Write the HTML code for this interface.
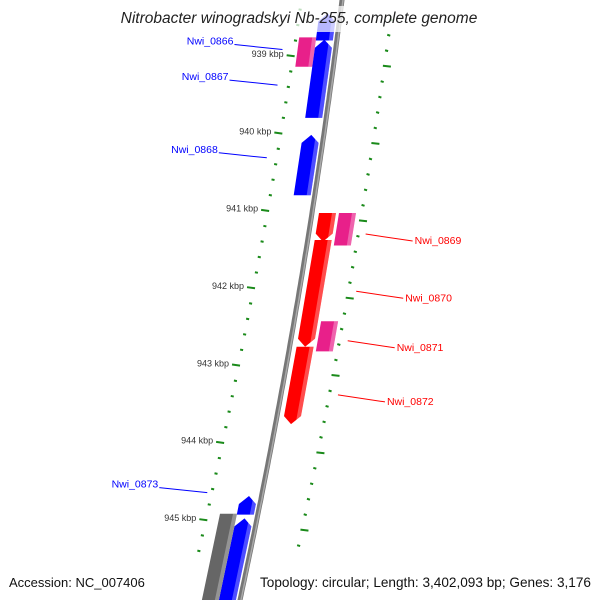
<!DOCTYPE html>
<html><head><meta charset="utf-8"><style>
body{margin:0;background:#fff}
svg{display:block;font-family:"Liberation Sans","DejaVu Sans",sans-serif}
</style></head><body>
<svg id="map" width="600" height="600" viewBox="0 0 600 600">
<g id="ticks"></g>
<g id="genes"></g>
<path id="backbone" fill="none" stroke="#777" stroke-width="5"/>
<path id="backbone2" fill="none" stroke="#aaa" stroke-width="1.5"/>
<g id="labels"></g>
<rect x="112" y="6" width="376" height="26" fill="#fff" opacity="0.72"/>
<text x="299" y="23" text-anchor="middle" font-size="15.5" font-style="italic" fill="#222">Nitrobacter winogradskyi Nb-255, complete genome</text>
<text x="9" y="587" font-size="13" fill="#111">Accession: NC_007406</text>
<text x="591" y="587" font-size="13.6" fill="#111" text-anchor="end">Topology: circular; Length: 3,402,093 bp; Genes: 3,176</text>
</svg>
<script>
const kbpLabels=[939,940,941,942,943,944,945];
const geneNames=["Nwi_top","Nwi_0866","Nwi_0867","Nwi_0868","Nwi_0869a","Nwi_0869","Nwi_0870","Nwi_0871","Nwi_0872","Nwi_0873","Nwi_0874","Nwi_0875"];
const geneStart=[938.45,938.76,938.79,940.02,941.03,941.03,941.38,942.43,942.76,944.69,944.98,944.92];
const geneEnd=[938.8,939.14,939.8,940.8,941.4,941.45,942.76,942.82,943.76,944.93,946.2,946.2];
const geneLane=[-1,-2,-1,-1,1,2,1,2,1,-1,-1,-2];
const geneDir=[-1,0,-1,-1,1,0,1,0,1,-1,-1,0];
const geneColor=["#0000ff","#e8208a","#0000ff","#0000ff","#ff0000","#e8208a","#ff0000","#e8208a","#ff0000","#0000ff","#0000ff","#666666"];
const labelNames=["Nwi_0866","Nwi_0867","Nwi_0868","Nwi_0869","Nwi_0870","Nwi_0871","Nwi_0872","Nwi_0873"];
const labelKbp=[938.8,939.26,940.2,941.38,942.12,942.76,943.46,944.53];
const labelSide=[-1,-1,-1,1,1,1,1,-1];

const NS="http://www.w3.org/2000/svg";
function yOf(k){return 56+(k-939)*77.33;}
function xb(y){return 342-0.125*y-0.000075*y*y;}
function mk(tag,attrs,parent){const e=document.createElementNS(NS,tag);for(const a in attrs)e.setAttribute(a,attrs[a]);parent.appendChild(e);return e;}

let d="";for(let y=-5;y<=605;y+=5){d+=(y<0?"M":"L")+xb(y).toFixed(1)+","+y+" ";}
document.getElementById("backbone").setAttribute("d",d);
const d2=d.replace(/([\d.]+),(-?\d+)/g,(m,x,y)=>(parseFloat(x)+1).toFixed(1)+","+y);
document.getElementById("backbone2").setAttribute("d",d2);

const tg=document.getElementById("ticks");
for(let k=938.4;k<=946.3;k+=0.2){
  const kk=Math.round(k*10)/10;const y=yOf(kk);
  const major=Math.abs(kk-Math.round(kk))<0.01;
  if(y>-5&&y<560){
    const lx=xb(y)-39-0.02*y;
    const t=mk("line",{x1:lx-(major?8:3),y1:y-(major?0.8:0.3),x2:lx,y2:y+0.3,stroke:"#1a8a1a","stroke-width":2},tg);
    
    
  }
  const half=Math.abs(kk*2-Math.round(kk*2))<0.01;
  const ky=y+10;
  if(ky>-5&&ky<560){
    const rx=xb(ky)+50-0.008*ky;
    const r=mk("line",{x1:rx,y1:ky-0.3,x2:rx+(half?8:3),y2:ky+0.6,stroke:"#1a8a1a","stroke-width":2},tg);
    
    
  }
}
for(const k of kbpLabels){
  const y=yOf(k);
  const t=mk("text",{x:xb(y)-50-0.02*y,y:y+1,"font-size":9,"text-anchor":"end",fill:"#333"},tg);
  t.textContent=k+" kbp";
  
  
}

const gg=document.getElementById("genes");
const laneOff={"-2":[-38,-21],"-1":[-21,-4],"1":[7,24],"2":[27,44]};
geneNames.forEach((n,i)=>{
  const y1=yOf(geneStart[i]),y2=yOf(geneEnd[i]);
  const [a,b]=laneOff[geneLane[i]];const m=(a+b)/2;const h=8;
  let pts;
  if(geneDir[i]===-1){pts=[[m,y1],[b,y1+h],[b,y2],[a,y2],[a,y1+h]];}
  else if(geneDir[i]===1){pts=[[a,y1],[b,y1],[b,y2-h],[m,y2],[a,y2-h]];}
  else{pts=[[a,y1],[b,y1],[b,y2],[a,y2]];}
  const P=pts.map(p=>(xb(p[1])+p[0]).toFixed(1)+","+p[1].toFixed(1)).join(" ");
  const g=mk("polygon",{points:P,fill:geneColor[i]},gg);
  
  
  const hs=pts.map(p=>[p[0]<=m?Math.max(p[0],b-4):p[0],p[1]]);
  const H=hs.map(p=>(xb(p[1])+p[0]).toFixed(1)+","+p[1].toFixed(1)).join(" ");
  const s=mk("polygon",{points:H,fill:"#fff",opacity:0.3},gg);
  
  
});

const lg=document.getElementById("labels");
labelNames.forEach((n,i)=>{
  const yc=yOf(labelKbp[i]);const side=labelSide[i];
  const col=side<0?"#0000ff":"#ff0000";
  let x1,y1,x2,y2,tx,anchor;
  if(side<0){y1=yc+4;y2=yc+9;x2=xb(y2)-53-0.004*yc;x1=x2-48;tx=x1-1;anchor="end";}
  else{y1=yc-6;y2=yc+1;x1=xb(y1)+57;x2=x1+47;tx=x2+2;anchor="start";}
  const l=mk("line",{x1,y1,x2,y2,stroke:col,"stroke-width":1},lg);
  
  
  const t=mk("text",{x:tx,y:yc+4,"font-size":10.5,fill:col,"text-anchor":anchor},lg);
  t.textContent=n;
  
  
});
</script>
</body></html>
